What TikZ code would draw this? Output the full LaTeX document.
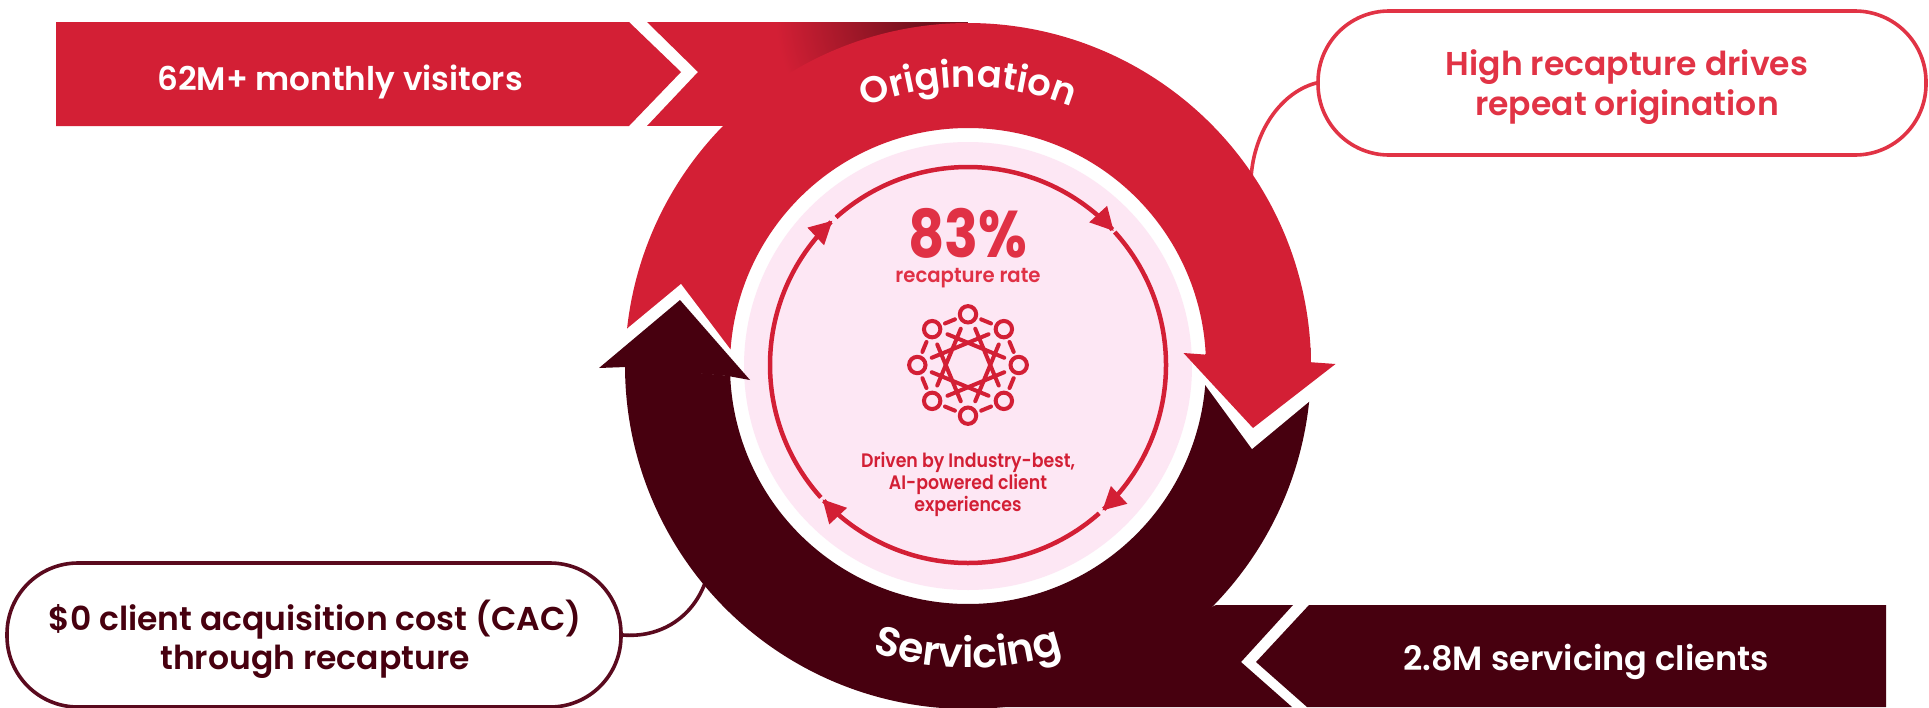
\documentclass[tikz,border=0pt]{standalone}
\usepackage{fontspec}
\setmainfont{Poppins}
\newfontfamily\psemi{Poppins SemiBold}
\newfontfamily\pmed{Poppins Medium}
\usetikzlibrary{arrows.meta,decorations.text}
\definecolor{cred}{HTML}{D31F35}
\definecolor{cdark}{HTML}{47000F}
\definecolor{cpink}{HTML}{FDE7F4}
\definecolor{cline}{HTML}{E13345}
\definecolor{cline2}{HTML}{5A0A1E}
\definecolor{ctxt}{HTML}{E03145}
\newcommand{\cx}{968}
\newcommand{\cy}{366}
\tikzset{
  ringplot/.style={samples=140,smooth,variable=\t},
  bubble/.style={draw,line width=3.6pt,fill=white,rounded corners=71pt,align=center,inner sep=0pt},
  bubtext/.style={font=\psemi\fontsize{33}{39.5}\selectfont},
  loop/.style={draw=cred,line width=4.5pt,-{Triangle[length=23pt,width=23pt]}},
  iconline/.style={draw=cred,line width=4pt,line cap=round},
}
\begin{document}
\begin{tikzpicture}[x=1pt,y=-1pt]
\useasboundingbox (0,0) rectangle (1929,707);
\clip (0,0) rectangle (1929,707);
\fill[white] (0,0) rectangle (1929,707);
% chevrons
\fill[cred] (56,22)--(629,22)--(681,72)--(629,126)--(56,126)--cycle;
\begin{scope}
\clip (647,22)--(968,22)--(968,126)--(647,126)--(698,72)--cycle;
\fill[cred] (640,22) rectangle (968,126);
\shade[inner color=black!50!cred,outer color=cred] (930,14) circle (155);
\end{scope}
\fill[cdark] (1216,605)--(1293,605)--(1241,662)--(1292,707)--(1000,707)--cycle;
\fill[cdark] (1309,605)--(1886,605)--(1886,707)--(1307,707)--(1256,662)--cycle;
% connectors and bubbles
\node[bubble,draw=cline,minimum width=608pt,minimum height=144pt] (tb) at (1622,83) {};
\node[bubble,draw=cline2,minimum width=614pt,minimum height=144pt] (bb) at (314,635) {};
\coordinate (tbend) at (1251,178);
\coordinate (bbend) at (705,583);
\draw[draw=cline,line width=3.6pt] (tb.west) .. controls (1282,92) and (1254,130) .. (tbend);
\draw[draw=cline2,line width=3.6pt] (bb.east) .. controls (660,638) and (692,618) .. (bbend);
\node[bubtext,text=cline,align=center] (tbt) at (1627,87) {High recapture drives\\repeat origination};
\node[bubtext,text=cdark,align=center] (bbt) at (315,639) {\$0 client acquisition cost (CAC)\\through recapture};
\node[text=white,font=\psemi\fontsize{32.6}{39}\selectfont] (t1) at (340,82) {62M+ monthly visitors};
\node[text=white,font=\psemi\fontsize{33.6}{39}\selectfont] (t2) at (1586,662) {2.8M servicing clients};
% dark ring
\fill[cdark] plot[ringplot,domain=180:-3] ({\cx+343*cos(\t)},{\cy+343*sin(\t)})
  -- plot[ringplot,domain=-3:177.6] ({\cx+238*cos(\t)},{\cy+238*sin(\t)}) -- cycle;
% white outline of the red head
\fill[white] (1176,345)--(1346,371)--(1252,449)--cycle;
% red ring
\fill[cred] plot[ringplot,domain=184:359.7] ({\cx+343*cos(\t)},{\cy+343*sin(\t)})
  -- plot[ringplot,domain=357.4:184] ({\cx+238*cos(\t)},{\cy+238*sin(\t)}) -- cycle;
% white outline of the dark head
\fill[white] (588,361)--(681,284)--(752,378)--(680,366)--cycle;
% pink disc
\fill[cpink] (\cx,\cy) circle (224);
% heads
\fill[cred] (1183.5,353)--(1335.5,364)--(1253,428)--cycle;
\fill[cred] (1205,354) rectangle (1310,364);
\fill[cdark] (599,368)--(680,300)--(750,380)--(728,376)--(626,367)--cycle;
% inner loop
\draw[loop] plot[ringplot,domain=228.2:317.4] ({\cx+198*cos(\t)},{365+198*sin(\t)});
\draw[loop] plot[ringplot,domain=317.8:407.3] ({\cx+198*cos(\t)},{365+198*sin(\t)});
\draw[loop] plot[ringplot,domain=48.5:137.3] ({\cx+198*cos(\t)},{365+198*sin(\t)});
\draw[loop] plot[ringplot,domain=138:226.8] ({\cx+198*cos(\t)},{365+198*sin(\t)});
% centre text
\begin{scope}[shift={(968,233)},xscale=.85]
\node[transform shape,text=ctxt,font=\bfseries\fontsize{66}{66}\selectfont] (pct) at (0,0) {83\%};
\end{scope}
\begin{scope}[shift={(968,278)},xscale=.96]
\node[transform shape,text=ctxt,font=\psemi\fontsize{20.5}{24}\selectfont] (rr) at (0,0) {recapture rate};
\end{scope}
\begin{scope}[shift={(968,484)},xscale=.89]
\node[transform shape,text=cred,align=center,font=\psemi\fontsize{19.5}{22}\selectfont] (dr) at (0,0) {Driven by Industry-best,\\AI-powered client\\experiences};
\end{scope}
% icon
\begin{scope}[shift={(968,365)}]
\foreach \a in {0,45,...,315}{
  \draw[draw=cred,line width=4pt] (\a:50.7) circle (8.2);
  \draw[iconline] (\a+16:47.5) -- (\a+29:47.5);
  \draw[iconline] (\a+11.25:37) -- (\a+123.75:37);
}
\end{scope}
% curved titles
\path[decorate,decoration={text along path,text align=center,text color=white,
  text={|\fontsize{37}{37}\selectfont\psemi|Origination}}]
  plot[ringplot,samples=60,domain=225:315] ({\cx+279*cos(\t)},{\cy+279*sin(\t)});
\path[decorate,decoration={text along path,text align=center,text color=white,
  text={|\fontsize{41}{41}\selectfont\psemi|Servicing}}]
  plot[ringplot,samples=60,domain=130:50] ({\cx+302*cos(\t)},{\cy+302*sin(\t)});
\end{tikzpicture}
\end{document}
